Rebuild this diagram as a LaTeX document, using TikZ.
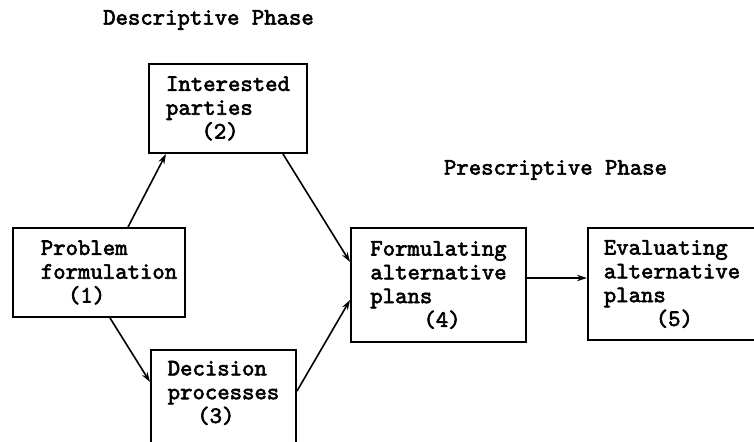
\documentclass[tikz,border=0pt]{standalone}
\usepackage{fontspec}
\newfontfamily\typewriter{lmmono10-regular.otf}[FakeBold=2.5]
\usetikzlibrary{arrows.meta,calc}
\begin{document}
\begin{tikzpicture}[
  x=0.5pt, y=-0.5pt,
  every node/.style={
    font=\typewriter\fontsize{11.8}{11.9}\selectfont
  },
  box/.style={draw, line width=1pt, align=left, inner sep=0pt},
  arrow/.style={-{Stealth[length=5pt,width=3.2pt]}, line width=0.8pt}
]
\useasboundingbox (0,0) rectangle (754,442);
\node (descriptive) at (208.5,20) {Descriptive Phase};
\node (prescriptive) at (555.5,170) {Prescriptive Phase};
\node[box, minimum width=86pt, minimum height=44.5pt] (problem) at (99,272.5)
  {\hspace*{10pt}Problem\\\hspace*{10pt}formulation\\\hspace*{10pt}\hspace*{1.15em}(1)};
\node[box, minimum width=79pt, minimum height=44.5pt] (parties) at (228,108.5)
  {Interested\\parties\\\hspace*{1.5em}(2)};
\node[box, minimum width=72.5pt, minimum height=48pt] (decision) at (223.5,398)
  {Decision\\processes\\\hspace*{1.25em}(3)\rule[-6pt]{0pt}{6pt}};
\node[box, minimum width=87.5pt, minimum height=57pt] (formulating) at (438.5,285)
  {Formulating\\alternative\\plans\\\hspace*{2.25em}(4)};
\node[box, minimum width=84pt, minimum height=56pt] (evaluating) at (672,284)
  {Evaluating\\alternative\\plans\\\hspace*{2.2em}(5)};
\draw[arrow] ($(problem.north)+(29,0)$) -- ($(parties.south)+(-62,0)$);
\draw[arrow] ($(parties.south)+(55,0)$) -- ($(formulating.west)+(0,-23)$);
\draw[arrow] ($(problem.south)+(11,0)$) -- ($(decision.north west)+(0,33)$);
\draw[arrow] ($(decision.north east)+(0,42)$) -- ($(formulating.west)+(0,15)$);
\draw[arrow] ($(formulating.east)+(0,-7)$) -- ($(evaluating.west)+(0,-6)$);
\end{tikzpicture}
\end{document}
